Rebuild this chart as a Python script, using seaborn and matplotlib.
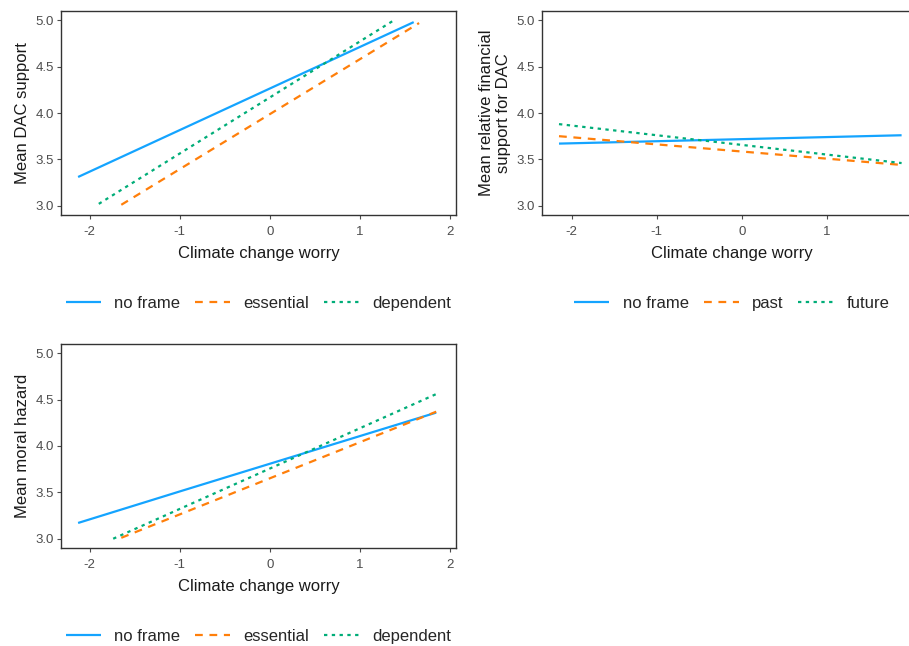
import pandas as pd
import matplotlib
matplotlib.use("Agg")
import matplotlib.pyplot as plt
import seaborn as sns

sns.set_style("ticks")
plt.rcParams['font.family'] = ['Liberation Sans', 'DejaVu Sans']
plt.rcParams['axes.unicode_minus'] = False

# panel 1: DAC support
dac_x = {"no frame": [-2.13, 1.60], "essential": [-1.65, 1.66], "dependent": [-1.90, 1.38]}
dac_y = {"no frame": [3.31, 4.98], "essential": [3.01, 4.97], "dependent": [3.02, 5.00]}

# panel 2: relative financial support
fin_x = {"no frame": [-2.15, 1.88], "past": [-2.15, 1.88], "future": [-2.15, 1.88]}
fin_y = {"no frame": [3.67, 3.76], "past": [3.75, 3.44], "future": [3.88, 3.46]}

# panel 3: moral hazard
mh_x = {"no frame": [-2.13, -1.0, 1.85], "essential": [-1.65, 1.85], "dependent": [-1.74, 1.85]}
mh_y = {"no frame": [3.17, 3.51, 4.36], "essential": [3.01, 4.37], "dependent": [3.00, 4.56]}

yticks = [3.0, 3.5, 4.0, 4.5, 5.0]
xticks = [-2, -1, 0, 1, 2]
colors = ['#14A4FF', '#FF7F0A', '#00AD78']
dash_styles = [(1, 0), (3.5, 3), (1.5, 2)]


def to_frame(xs, ys):
    rows = []
    for k in xs:
        for a, b in zip(xs[k], ys[k]):
            rows.append({'frame': k, 'x': a, 'y': b})
    return pd.DataFrame(rows)


def draw(ax, xs, ys, ylabel, xlim):
    df = to_frame(xs, ys)
    names = list(xs.keys())
    sns.lineplot(data=df, x='x', y='y', hue='frame', style='frame',
                 palette=dict(zip(names, colors)), dashes=dict(zip(names, dash_styles)),
                 hue_order=names, style_order=names, linewidth=1.6, ax=ax, sort=False)
    ax.set_xlim(*xlim)
    ax.set_ylim(2.9, 5.1)
    ax.set_xticks(xticks)
    ax.set_yticks(yticks)
    ax.set_yticklabels([f'{v:.1f}' for v in yticks])
    ax.set_xlabel('Climate change worry', fontsize=12, color='#1a1a1a', labelpad=6)
    ax.set_ylabel(ylabel, fontsize=12, color='#1a1a1a', labelpad=4)
    ax.tick_params(labelsize=9.5, colors='#4d4d4d', length=3, width=0.8, pad=2)
    ax.tick_params(axis='x', pad=5)
    for s in ax.spines.values():
        s.set_color('#333333')
        s.set_linewidth(1.0)
    sns.move_legend(ax, 'upper center', bbox_to_anchor=(0.5, -0.325), ncol=3,
                    frameon=False, title=None, fontsize=12, handlelength=2.1,
                    handletextpad=0.8, columnspacing=0.9)


fig = plt.figure(figsize=(9.09, 6.46), dpi=100)
ax1 = fig.add_axes([61 / 909, 431 / 646, 395 / 909, 204 / 646])
ax2 = fig.add_axes([542 / 909, 431 / 646, 380 / 909, 204 / 646])
ax3 = fig.add_axes([61 / 909, 98 / 646, 395 / 909, 204 / 646])

draw(ax1, dac_x, dac_y, 'Mean DAC support', (-2.32, 2.07))
draw(ax2, fin_x, fin_y, 'Mean relative financial\nsupport for DAC', (-2.35, 2.12))
draw(ax3, mh_x, mh_y, 'Mean moral hazard', (-2.32, 2.07))

fig.savefig('out.png', dpi=100, facecolor='white')
